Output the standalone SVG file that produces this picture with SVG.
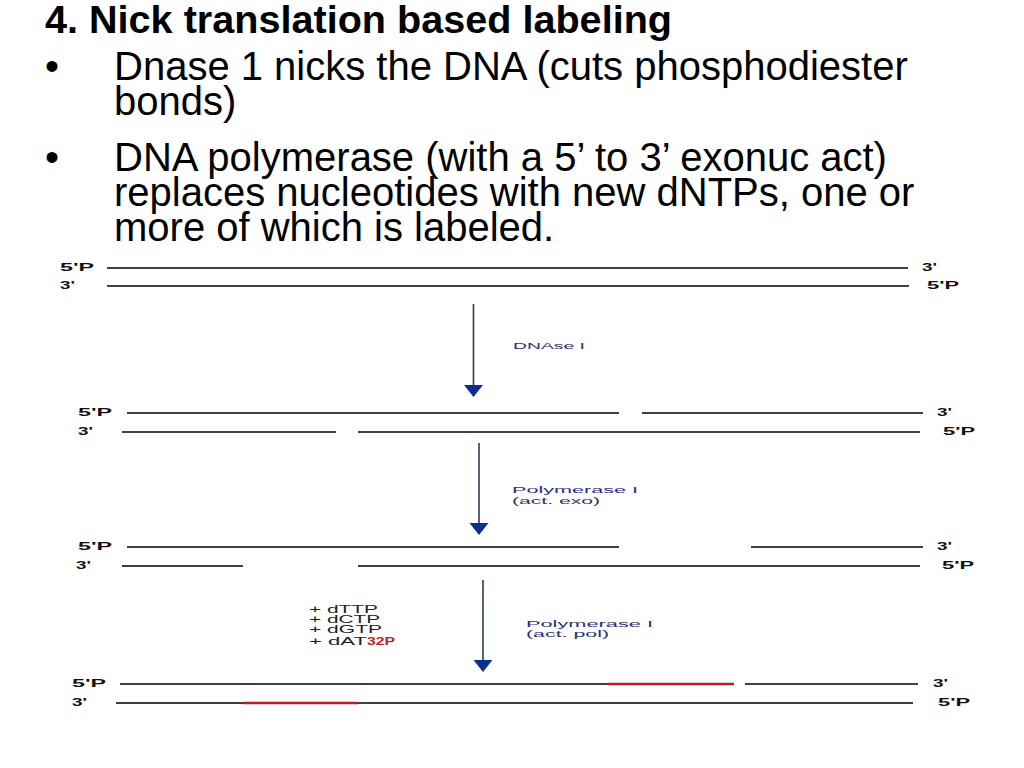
<svg xmlns="http://www.w3.org/2000/svg" width="1024" height="768" viewBox="0 0 1024 768">
<style>
.title{font-family:"Liberation Sans",Arial,sans-serif;font-weight:bold;font-size:39px;fill:#000}
.body{font-family:"Liberation Sans",Arial,sans-serif;font-size:40px;fill:#000}
.lbl{font-family:"Liberation Sans",Arial,sans-serif;font-weight:bold;font-size:10px;fill:#111}
.enz{font-family:"Liberation Sans",Arial,sans-serif;font-size:9.6px;fill:#2b2f7a}
.nuc{font-family:"Liberation Sans",Arial,sans-serif;font-size:10px;fill:#222}
.dna{stroke:#000;stroke-width:1.6;fill:none}
.lab{stroke:#c01e1e;stroke-width:2.6;fill:none}
.arr{stroke:#2a3a5c;stroke-width:1.6;fill:none}
.head{fill:#0b2f8f}
</style>
<rect width="1024" height="768" fill="#fff"/>
<g id="title">
<text class="title" x="45" y="33" textLength="627" lengthAdjust="spacingAndGlyphs">4. Nick translation based labeling</text>
</g>
<g id="bullets">
<text class="body"><tspan x="45" y="80">•</tspan><tspan x="114" y="80">Dnase 1 nicks the DNA (cuts phosphodiester</tspan><tspan x="114" y="115">bonds)</tspan></text>
<text class="body"><tspan x="45" y="171">•</tspan><tspan x="114" y="171">DNA polymerase (with a 5’ to 3’ exonuc act)</tspan><tspan x="114" y="206">replaces nucleotides with new dNTPs, one or</tspan><tspan x="114" y="241">more of which is labeled.</tspan></text>
</g>
<g id="connectors">
<line class="arr" x1="473.5" y1="304" x2="473.5" y2="388"/>
<polygon class="head" points="464,385 483,385 473.5,397"/>
<line class="arr" x1="479" y1="443" x2="479" y2="526"/>
<polygon class="head" points="469.5,523 488.5,523 479,535"/>
<line class="arr" x1="483" y1="580" x2="483" y2="663"/>
<polygon class="head" points="473.5,660 492.5,660 483,672"/>
</g>
<g id="row1">
<line class="dna" x1="107" y1="268" x2="908" y2="268"/>
<line class="dna" x1="107" y1="286" x2="909" y2="286"/>
<text class="lbl" x="60" y="271" textLength="34" lengthAdjust="spacingAndGlyphs">5'P</text>
<text class="lbl" x="60" y="289" textLength="15" lengthAdjust="spacingAndGlyphs">3'</text>
<text class="lbl" x="922" y="271" textLength="15" lengthAdjust="spacingAndGlyphs">3'</text>
<text class="lbl" x="927" y="289" textLength="32" lengthAdjust="spacingAndGlyphs">5'P</text>
</g>
<g id="step-dnase">
<text class="enz" x="513" y="349" textLength="72" lengthAdjust="spacingAndGlyphs">DNAse I</text>
</g>
<g id="row2">
<line class="dna" x1="127" y1="413" x2="619" y2="413"/>
<line class="dna" x1="642" y1="413" x2="923" y2="413"/>
<line class="dna" x1="122" y1="432" x2="336" y2="432"/>
<line class="dna" x1="358" y1="432" x2="920" y2="432"/>
<text class="lbl" x="78" y="416" textLength="34" lengthAdjust="spacingAndGlyphs">5'P</text>
<text class="lbl" x="78" y="435" textLength="15" lengthAdjust="spacingAndGlyphs">3'</text>
<text class="lbl" x="937" y="416" textLength="15" lengthAdjust="spacingAndGlyphs">3'</text>
<text class="lbl" x="943" y="435" textLength="32" lengthAdjust="spacingAndGlyphs">5'P</text>
</g>
<g id="step-exo">
<text class="enz"><tspan x="512" y="493" textLength="126" lengthAdjust="spacingAndGlyphs">Polymerase I</tspan><tspan x="512" y="503.5" textLength="88" lengthAdjust="spacingAndGlyphs">(act. exo)</tspan></text>
</g>
<g id="row3">
<line class="dna" x1="127" y1="547" x2="619" y2="547"/>
<line class="dna" x1="751" y1="547" x2="923" y2="547"/>
<line class="dna" x1="122" y1="566" x2="243" y2="566"/>
<line class="dna" x1="358" y1="566" x2="920" y2="566"/>
<text class="lbl" x="78" y="550" textLength="34" lengthAdjust="spacingAndGlyphs">5'P</text>
<text class="lbl" x="76" y="569" textLength="15" lengthAdjust="spacingAndGlyphs">3'</text>
<text class="lbl" x="937" y="550" textLength="15" lengthAdjust="spacingAndGlyphs">3'</text>
<text class="lbl" x="942" y="569" textLength="32" lengthAdjust="spacingAndGlyphs">5'P</text>
</g>
<g id="step-pol">
<text class="nuc"><tspan x="309" y="613" textLength="69" lengthAdjust="spacingAndGlyphs">+ dTTP</tspan><tspan x="309" y="623" textLength="71" lengthAdjust="spacingAndGlyphs">+ dCTP</tspan><tspan x="309" y="633" textLength="73" lengthAdjust="spacingAndGlyphs">+ dGTP</tspan><tspan x="309" y="645" textLength="58" lengthAdjust="spacingAndGlyphs">+ dAT</tspan><tspan x="367" y="645" textLength="28" lengthAdjust="spacingAndGlyphs" fill="#c01e1e" font-weight="bold">32P</tspan></text>
<text class="enz"><tspan x="526" y="627" textLength="127" lengthAdjust="spacingAndGlyphs">Polymerase I</tspan><tspan x="526" y="637" textLength="83" lengthAdjust="spacingAndGlyphs">(act. pol)</tspan></text>
</g>
<g id="row4">
<line class="dna" x1="120" y1="684" x2="608" y2="684"/>
<line class="lab" x1="608" y1="684" x2="734" y2="684"/>
<line class="dna" x1="745" y1="684" x2="918" y2="684"/>
<line class="dna" x1="116" y1="703" x2="243" y2="703"/>
<line class="lab" x1="243" y1="703" x2="358" y2="703"/>
<line class="dna" x1="358" y1="703" x2="913" y2="703"/>
<text class="lbl" x="72" y="687" textLength="34" lengthAdjust="spacingAndGlyphs">5'P</text>
<text class="lbl" x="72" y="706" textLength="15" lengthAdjust="spacingAndGlyphs">3'</text>
<text class="lbl" x="933" y="687" textLength="15" lengthAdjust="spacingAndGlyphs">3'</text>
<text class="lbl" x="938" y="706" textLength="32" lengthAdjust="spacingAndGlyphs">5'P</text>
</g>
</svg>
